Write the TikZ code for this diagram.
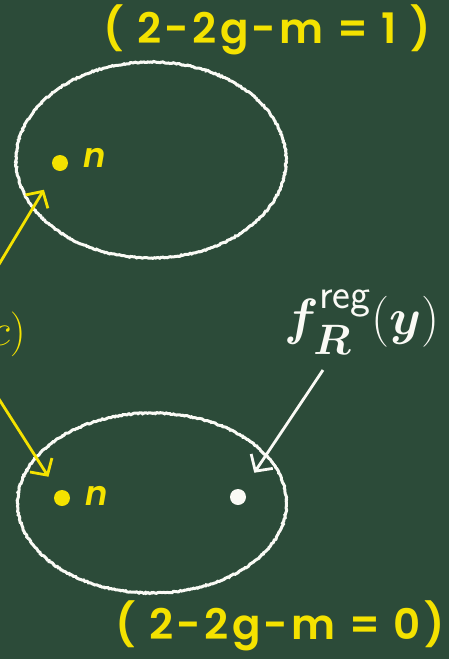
\documentclass[tikz,border=0pt]{standalone}
\usepackage{graphicx}
\usepackage{amsmath,amssymb,bm}
\usepackage{fontspec}
\newfontfamily\chalkfont{Poppins}[UprightFont=* SemiBold, LetterSpace=8]
\newfontfamily\chalkn{Poppins}[UprightFont=* SemiBold Italic]
\usetikzlibrary{arrows.meta,shapes.geometric,decorations.pathmorphing}
\definecolor{board}{HTML}{2C4B39}
\definecolor{chalkyellow}{HTML}{F4E200}
\definecolor{chalkwhite}{HTML}{FAFAF5}
\tikzset{
  chalkline/.style={line width=3pt, decorate, decoration={random steps, segment length=1.5pt, amplitude=0.6pt}},
  loop/.style={ellipse, draw=chalkwhite, chalkline, inner sep=0pt},
  ydot/.style={circle, fill=chalkyellow, inner sep=0pt, minimum size=16pt},
  wdot/.style={circle, fill=chalkwhite, inner sep=0pt, minimum size=16pt},
  lbl/.style={text=chalkyellow, font=\chalkfont\fontsize{42}{42}\selectfont, inner sep=0pt},
  nlbl/.style={text=chalkyellow, font=\chalkn\fontsize{34}{34}\selectfont, inner sep=0pt},
  yarrow/.style={draw=chalkyellow, line width=2.8pt, -{Straight Barb[length=12pt,width=26pt,line width=2.8pt]}},
  warrow/.style={draw=chalkwhite, line width=2.8pt, -{Straight Barb[length=12pt,width=26pt,line width=2.8pt]}},
}
\begin{document}
\begin{tikzpicture}[x=1pt,y=-1pt]
  \fill[board] (0,0) rectangle (449,659);
  \useasboundingbox (0,0) rectangle (449,659);
  \clip (0,0) rectangle (449,659);

  % labels
  \node[lbl] (top) at (267,30) {( 2-2g-m = 1 )};
  \node[lbl] (bot) at (280,626) {( 2-2g-m = 0)};

  % top surface
  \node[loop, minimum width=270pt, minimum height=196pt] (s1) at (151,160) {};
  \node[ydot] (d1) at (60,163) {};
  \node[nlbl, anchor=west] (n1) at (83,158) {n};

  % bottom surface
  \node[loop, minimum width=269pt, minimum height=180pt] (s2) at (152,503) {};
  \node[ydot] (d2) at (62,498) {};
  \node[nlbl, anchor=west] (n2) at (85,496) {n};
  \node[wdot] (d3) at (238,497) {};

  % left cut label
  \node[text=chalkyellow, anchor=east, inner sep=0pt] (c) at (26,334) {\scalebox{1.8}{\Huge$c)$}};

  % right label
  \node[text=chalkwhite, inner sep=0pt] (f) at (362,322)
    {\scalebox{2.05}{\Huge$\bm{f}^{\mathsf{reg}}_{\bm{R}}(\bm{y})$}};

  % arrows
  \coordinate (a1) at (-5,271);
  \coordinate (a2) at (-3,396);
  \coordinate (a3) at (323,370);
  \draw[yarrow, shorten >=23pt] (a1) -- (d1);
  \draw[yarrow, shorten >=17pt] (a2) -- (d2);
  \draw[warrow, shorten >=21pt] (a3) -- (d3);
\end{tikzpicture}
\end{document}
